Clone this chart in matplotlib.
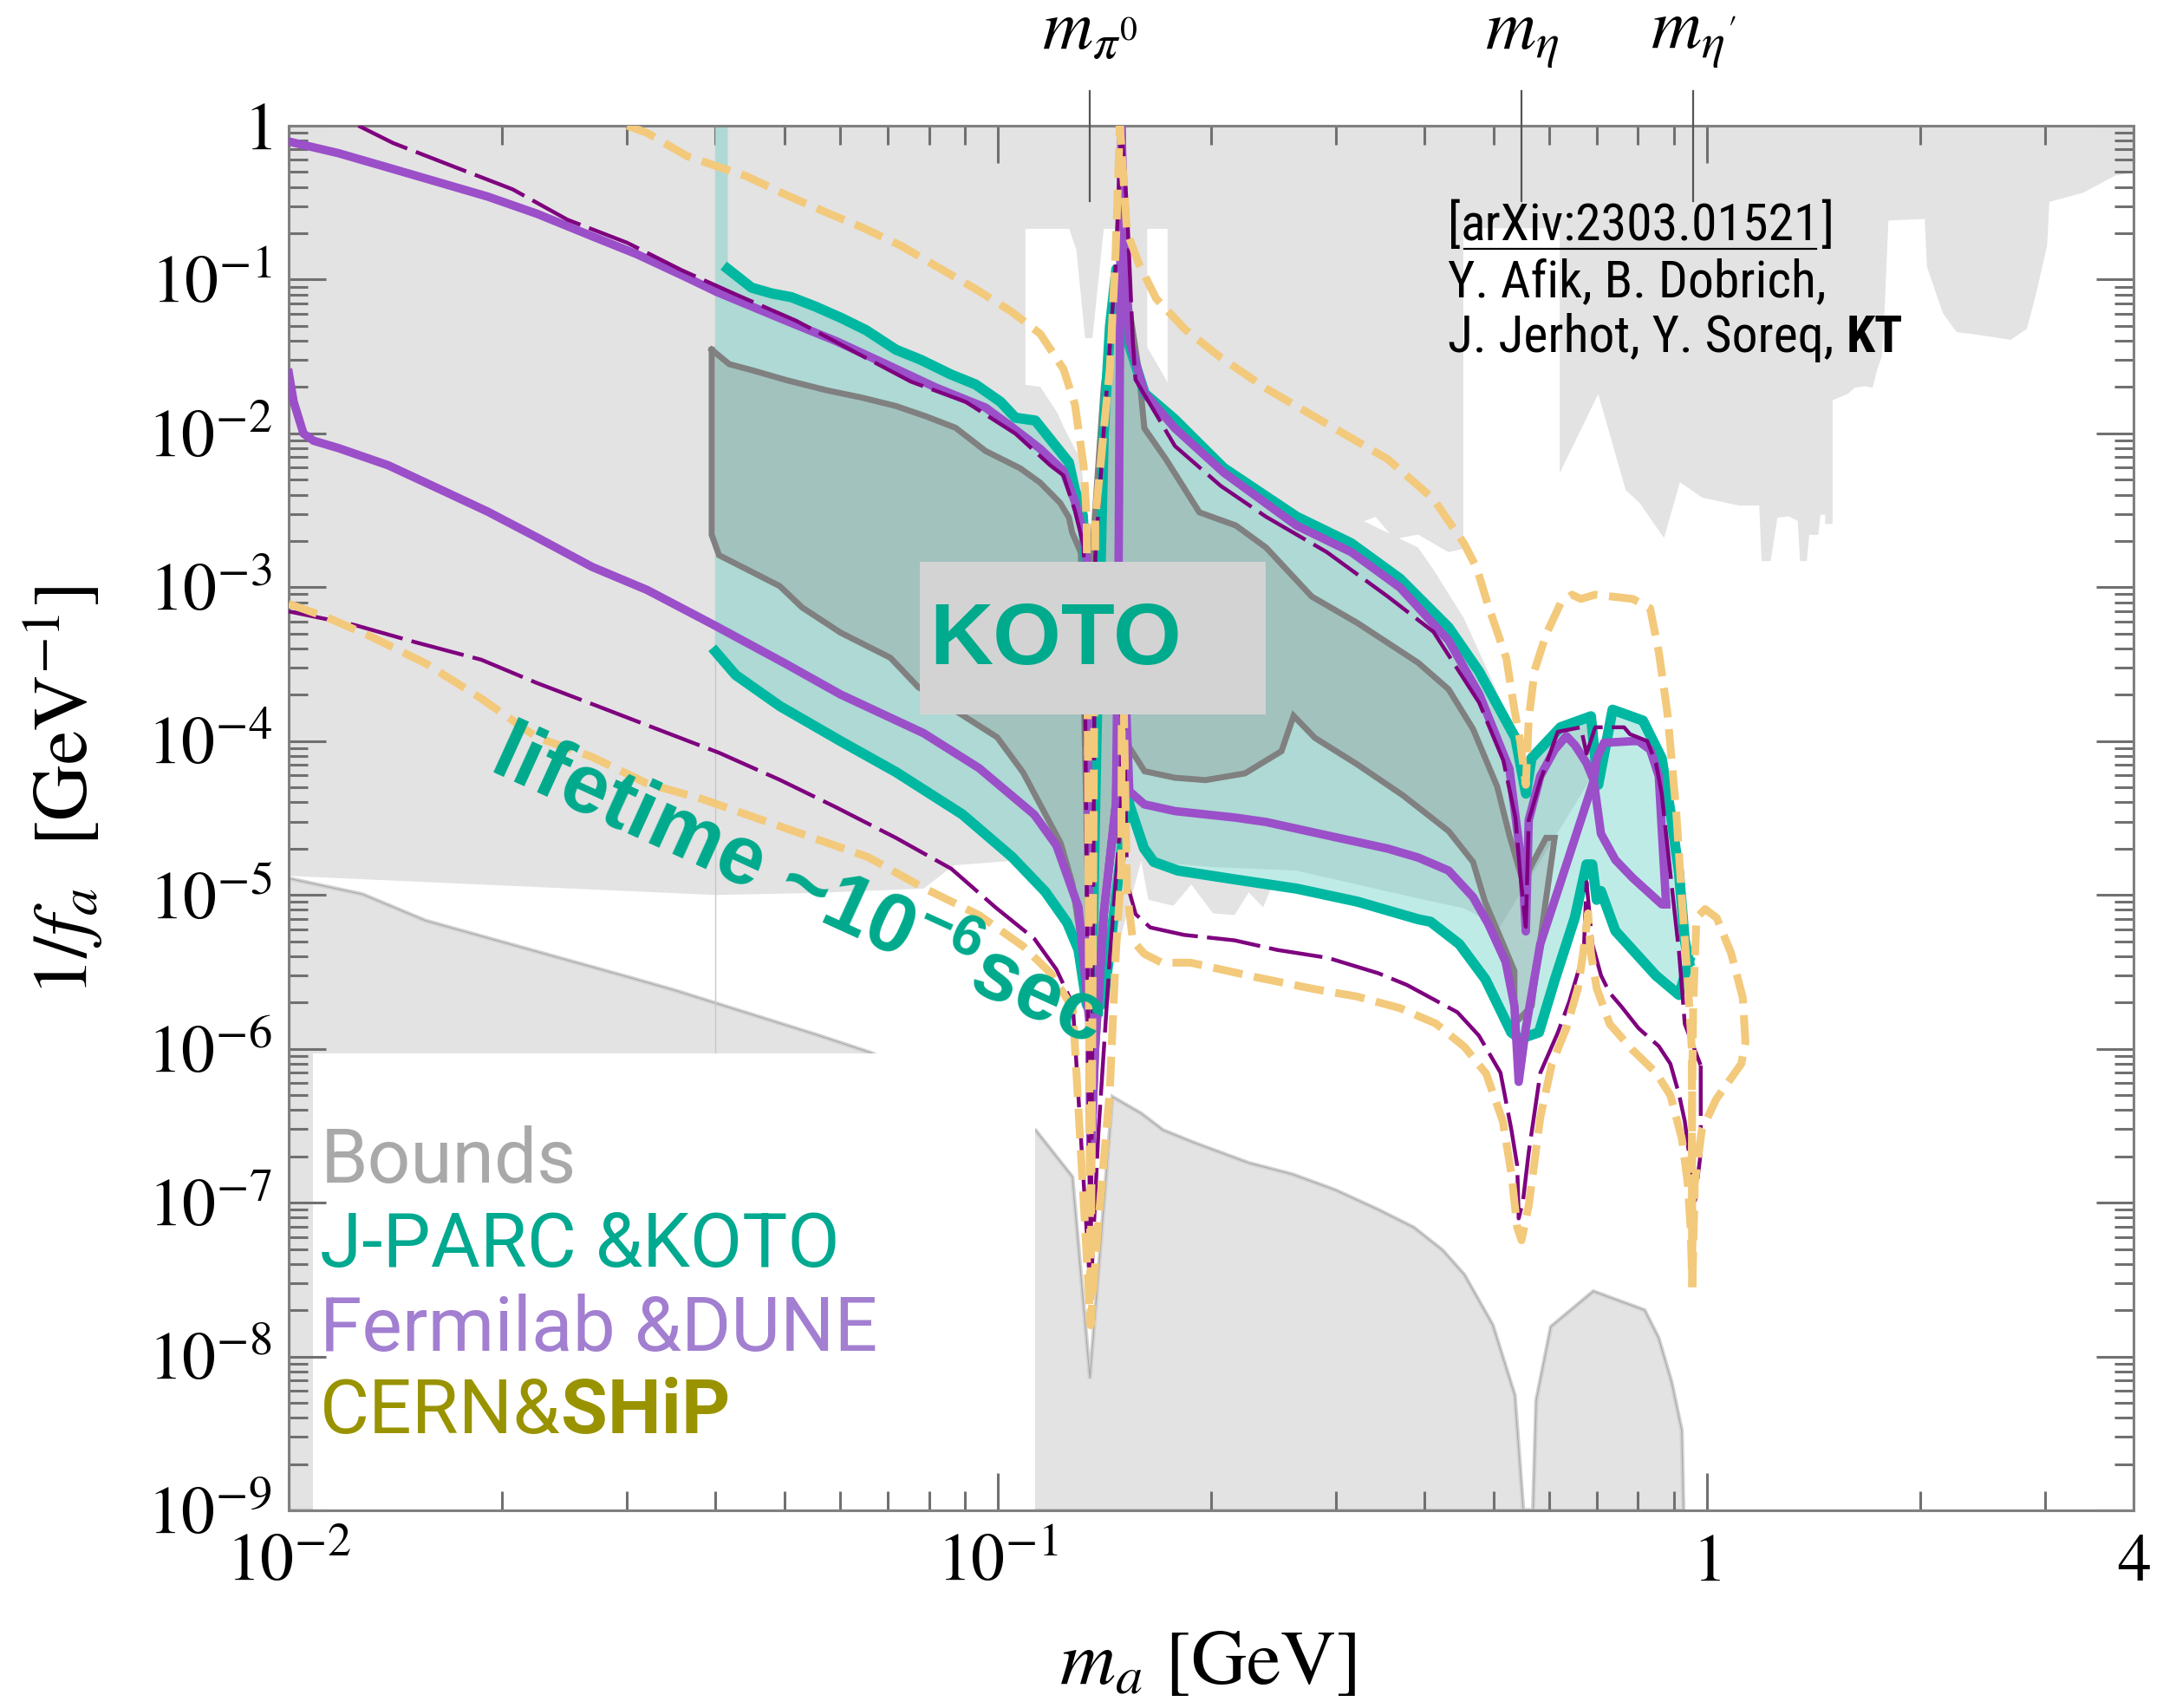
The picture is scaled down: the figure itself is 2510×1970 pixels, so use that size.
import matplotlib
matplotlib.use("Agg")
import matplotlib.pyplot as plt
from matplotlib.patches import Rectangle
from matplotlib.lines import Line2D
from matplotlib.ticker import NullFormatter

plt.rcParams["mathtext.fontset"] = "custom"
plt.rcParams["mathtext.rm"] = "STIXGeneral"
plt.rcParams["mathtext.it"] = "STIXGeneral:italic"
plt.rcParams["mathtext.bf"] = "Liberation Sans:bold"
plt.rcParams["mathtext.fallback"] = "stix"
plt.rcParams["font.family"] = ["STIXGeneral", "DejaVu Serif"]

# ---- existing bounds (m_a [GeV], 1/f_a [GeV^-1]) ----
bound_hi = [(0.01, 1), (4.0, 1), (4.0, 0.497), (3.768, 0.474), (3.398, 0.367), (3.043, 0.320),
            (3.021, 0.167), (2.912, 0.0796), (2.828, 0.0478), (2.685, 0.0406), (2.423, 0.0436),
            (2.251, 0.0456), (2.154, 0.0603), (2.045, 0.1207), (2.030, 0.2477), (1.804, 0.242),
            (1.778, 0.05), (1.765, 0.0315), (1.740, 0.0262), (1.714, 0.0198), (1.676, 0.0203),
            (1.616, 0.0198), (1.581, 0.01805), (1.505, 0.01646), (1.505, 0.00258), (1.469, 0.00258),
            (1.469, 0.00296), (1.447, 0.00296), (1.437, 0.00219), (1.395, 0.00219), (1.384, 0.00148),
            (1.354, 0.00148), (1.344, 0.0027), (1.305, 0.00289), (1.258, 0.00283), (1.231, 0.00148),
            (1.195, 0.00148), (1.186, 0.0034), (1.110, 0.0034), (0.9865, 0.00382), (0.9167, 0.00482),
            (0.8706, 0.00209), (0.803, 0.00356), (0.7686, 0.00428), (0.7031, 0.01805), (0.6204, 0.00553),
            (0.6204, 0.2157), (0.4536, 0.2157), (0.4536, 1.78e-3), (0.4325, 1.69e-3), (0.3917, 2.2e-3),
            (0.3622, 2.06e-3), (0.3412, 2.87e-3), (0.3284, 2.69e-3), (0.3917, 1.81e-3), (0.4118, 1.3e-3),
            (0.4544, 6.3e-4), (0.5014, 2.32e-4), (0.5205, 1.5e-4), (0.5404, 8.8e-5), (0.50, 5e-5),
            (0.40, 3e-5), (0.30, 2e-5), (0.2632, 1.48e-5), (0.2424, 1.08e-5), (0.2368, 8.3e-6),
            (0.226, 1.04e-5), (0.2158, 7.4e-6), (0.2012, 7.6e-6), (0.1875, 1.17e-5), (0.1769, 8.5e-6),
            (0.1631, 9.3e-6), (0.1593, 1.66e-5), (0.1352, 1e-6), (0.1285, 4.4e-6), (0.125, 7.5e-6),
            (0.1182, 1.77e-5), (0.1112, 2.32e-5), (0.1036, 1.66e-5), (0.0867, 1.56e-5), (0.0786, 1.1e-5),
            (0.055, 1.03e-5), (0.04, 1.0e-5), (0.01, 1.33e-5)]

# open windows in the upper bounds around the pi0 peak
gap_left = [(0.1094, 0.2136), (0.1261, 0.2136), (0.1291, 0.156), (0.1328, 0.0416), (0.136, 0.0416),
            (0.1399, 0.1465), (0.1411, 0.2136), (0.1466, 0.2136), (0.1466, 0.05), (0.1411, 0.0104),
            (0.1373, 0.00276), (0.1352, 2e-3), (0.1322, 0.00437), (0.131, 0.00695), (0.1285, 0.00794),
            (0.1238, 0.01106), (0.1215, 0.0135), (0.1148, 0.0201), (0.1094, 0.0207)]
gap_right = [(0.1625, 0.2136), (0.1736, 0.2136), (0.1736, 0.0215), (0.1625, 0.0364)]

bound_lo = [(0.01, 1e-9), (0.01, 1.28e-5), (0.0127, 1.01e-5), (0.0156, 6.8e-6), (0.0303, 2.9e-6),
            (0.035, 2.4e-6), (0.0559, 1.22e-6), (0.0663, 9.4e-7), (0.09, 5e-7), (0.113, 2.96e-7),
            (0.1274, 1.47e-7), (0.1349, 7.2e-9), (0.1452, 4.86e-7), (0.1593, 3.8e-7), (0.171, 2.96e-7),
            (0.1897, 2.44e-7), (0.226, 1.81e-7), (0.260, 1.53e-7), (0.299, 1.21e-7), (0.344, 9.0e-8),
            (0.386, 6.9e-8), (0.424, 4.9e-8), (0.455, 3.4e-8), (0.499, 1.6e-8), (0.536, 5.6e-9),
            (0.551, 1e-9), (0.569, 1e-9), (0.575, 5.2e-9), (0.603, 1.56e-8), (0.692, 2.65e-8),
            (0.817, 2.0e-8), (0.855, 1.32e-8), (0.892, 6.8e-9), (0.922, 3.3e-9), (0.927, 1e-9)]

koto_edge_m = 0.0399

# ---- J-PARC / KOTO reach ----
koto_upper = [(0.0400, 1.0), (0.0416, 1.0), (0.0416, 0.1174), (0.04496, 0.0886), (0.04797, 0.0813),
              (0.05117, 0.0768), (0.05547, 0.0664), (0.06015, 0.0563), (0.0652, 0.0469), (0.07186, 0.0350),
              (0.07789, 0.0301), (0.08584, 0.0242), (0.09306, 0.0208), (0.1009, 0.01606), (0.1059, 0.01265),
              (0.1130, 0.01212), (0.1260, 0.00647), (0.1285, 0.0043), (0.1318, 0.00295), (0.1338, 1e-3),
              (0.1355, 1.7e-6), (0.1378, 1e-4), (0.1411, 0.01), (0.1440, 0.05), (0.1470, 0.117),
              (0.1503, 0.0496), (0.1612, 0.01818), (0.1777, 0.01235), (0.2083, 0.00596), (0.2638, 0.00288),
              (0.3153, 0.00193), (0.3692, 0.001138), (0.4324, 5.49e-4), (0.4773, 2.84e-4), (0.5372, 1.05e-4),
              (0.556, 4.56e-5), (0.566, 7.74e-5), (0.622, 1.23e-4), (0.6866, 1.45e-4), (0.693, 9.45e-5),
              (0.703, 5.2e-5), (0.7366, 1.6e-4), (0.8128, 1.36e-4), (0.8639, 7.74e-5), (0.8886, 3.5e-5),
              (0.914, 1.39e-5), (0.931, 5.1e-6), (0.944, 3.7e-6)]
koto_lower = [(0.0400, 3.81e-4), (0.04269, 2.69e-4), (0.04928, 1.69e-4), (0.06003, 1.0e-4), (0.07183, 6.3e-5),
              (0.08915, 3.34e-5), (0.1047, 1.77e-5), (0.1167, 1.05e-5), (0.1253, 6.6e-6), (0.1300, 4.4e-6),
              (0.1335, 1.95e-6), (0.1355, 1.7e-6), (0.141, 2.0e-6), (0.1509, 2.83e-5), (0.1522, 5.1e-5),
              (0.1533, 3.88e-5), (0.1608, 2.01e-5), (0.166, 1.64e-5), (0.1796, 1.44e-5), (0.2166, 1.26e-5),
              (0.2638, 1.1e-5), (0.3216, 9.05e-6), (0.3918, 6.95e-6), (0.4077, 6.7e-6), (0.4477, 4.8e-6),
              (0.4874, 2.83e-6), (0.530, 1.28e-6), (0.5454, 1.16e-6), (0.5799, 1.28e-6), (0.6108, 2.83e-6),
              (0.6517, 7.14e-6), (0.6768, 1.58e-5), (0.6895, 1.58e-5), (0.6996, 9.3e-6), (0.7093, 1.06e-5),
              (0.7432, 5.85e-6), (0.8476, 3.0e-6), (0.914, 2.24e-6), (0.944, 3.7e-6)]
koto_dense_edge = [(0.2, 1.52e-5), (0.2638, 1.44e-5), (0.3917, 9.5e-6), (0.4544, 8.2e-6),
                   (0.5109, 6.2e-6), (0.6897, 5.93e-5)]

# current KOTO region (grey outline)
koto_now = [(0.0395, 0.0350), (0.04181, 0.0282), (0.04496, 0.0258), (0.05034, 0.0222), (0.05729, 0.0191),
            (0.06414, 0.01714), (0.07186, 0.01506), (0.0791, 0.01294), (0.0872, 0.01088), (0.0961, 0.00769),
            (0.1076, 0.00593), (0.1148, 0.00478), (0.1225, 0.00353), (0.1260, 0.00284), (0.1274, 0.002256),
            (0.1310, 0.001676), (0.1352, 1.6e-6), (0.1360, 1.73e-3), (0.1411, 0.0201), (0.1466, 0.0755),
            (0.1494, 0.1123), (0.1522, 0.0806), (0.1580, 0.02617), (0.1610, 0.0108), (0.1727, 0.00679),
            (0.1925, 0.00307), (0.2167, 0.00252), (0.2391, 0.00181), (0.2773, 8.7e-4), (0.3216, 5.86e-4),
            (0.3918, 3.23e-4), (0.4325, 2.17e-4), (0.4681, 1.2e-4), (0.5064, 5.06e-5), (0.5269, 2.44e-5),
            (0.5507, 1.21e-5), (0.5664, 1.57e-5), (0.5934, 2.35e-5), (0.6103, 2.35e-5), (0.5824, 5.1e-6),
            (0.5664, 1.9e-6), (0.5355, 1.45e-6), (0.5355, 3.2e-6), (0.5115, 5.3e-6), (0.4869, 9.0e-6),
            (0.4681, 1.64e-5), (0.4325, 2.6e-5), (0.3731, 4.43e-5), (0.3216, 7.05e-5), (0.2801, 1.05e-4),
            (0.2614, 1.46e-4), (0.2513, 8.6e-5), (0.2232, 6.17e-5), (0.1963, 5.58e-5), (0.1778, 5.78e-5),
            (0.1611, 6.37e-5), (0.1518, 9.8e-5), (0.1494, 5.47e-5), (0.1439, 1.46e-5), (0.1399, 5.4e-6),
            (0.1352, 1.6e-6), (0.1335, 2.13e-6), (0.1310, 5.0e-6), (0.1274, 1.19e-5), (0.1227, 2.17e-5),
            (0.1086, 6.25e-5), (0.0998, 1.06e-4), (0.0772, 2.25e-4), (0.07058, 3.48e-4), (0.06003, 5.07e-4),
            (0.05296, 7.4e-4), (0.04928, 1.017e-3), (0.04045, 1.616e-3), (0.0395, 2.19e-3), (0.0395, 0.0350)]

# ---- Fermilab / DUNE ----
dune_upper = [(0.01, 0.789), (0.01175, 0.663), (0.01382, 0.534), (0.01624, 0.430), (0.01909, 0.346),
              (0.02243, 0.267), (0.02637, 0.197), (0.03099, 0.146), (0.03643, 0.1031), (0.04015, 0.0831),
              (0.05034, 0.0539), (0.05917, 0.0398), (0.06955, 0.0282), (0.08175, 0.0199), (0.0961, 0.01472),
              (0.1046, 0.01106), (0.1148, 0.00794), (0.1238, 0.0057), (0.1285, 0.00359), (0.1316, 0.00241),
              (0.1335, 0.00152), (0.1352, 1.8e-7), (0.1372, 1.0e-6), (0.1411, 7.5e-6), (0.1468, 3.9e-5),
              (0.1480, 1e-3), (0.1494, 1.0), (0.1510, 0.2), (0.1533, 0.0406), (0.1610, 0.01835),
              (0.1778, 0.0108), (0.2083, 0.00557), (0.2638, 0.00252), (0.3154, 0.00169), (0.3694, 9.95e-4),
              (0.4325, 4.5e-4), (0.4775, 2.03e-4), (0.5269, 6.6e-5), (0.5503, 1.38e-5), (0.5557, 5.8e-6),
              (0.561, 3.06e-5), (0.5824, 5.93e-5), (0.6103, 8.8e-5), (0.6339, 1.08e-4), (0.6521, 9.4e-5),
              (0.6769, 7.2e-5), (0.6929, 5.55e-5), (0.6996, 3.98e-5), (0.7093, 2.5e-5), (0.7433, 1.69e-5),
              (0.7864, 1.29e-5), (0.8641, 8.7e-6), (0.8764, 8.7e-6)]
dune_lower = [(0.01, 0.0247), (0.01016, 0.01606), (0.01049, 0.00998), (0.01084, 0.00896), (0.01175, 0.00803),
              (0.01382, 0.0062), (0.01624, 0.00439), (0.01909, 0.0031), (0.02243, 0.0021), (0.02677, 0.001358),
              (0.03203, 9.6e-4), (0.03974, 5.7e-4), (0.05018, 3.19e-4), (0.06003, 2.01e-4), (0.07863, 1.125e-4),
              (0.0941, 6.68e-5), (0.1126, 3.33e-5), (0.1210, 2.1e-5), (0.1300, 8.3e-6), (0.1347, 1.47e-6),
              (0.1352, 1.8e-7), (0.1372, 1.03e-6), (0.1411, 7.5e-6), (0.1468, 3.93e-5), (0.1490, 5e-4),
              (0.1515, 2e-4), (0.1533, 4.73e-5), (0.1610, 3.88e-5), (0.1778, 3.51e-5), (0.2167, 3.18e-5),
              (0.2391, 2.98e-5), (0.2914, 2.44e-5), (0.3550, 2.0e-5), (0.3918, 1.75e-5), (0.4325, 1.44e-5),
              (0.4681, 9.7e-6), (0.4918, 6.5e-6), (0.5205, 3.67e-6), (0.5355, 1.9e-6), (0.5430, 6.1e-7),
              (0.5557, 1.36e-6), (0.5824, 4.8e-6), (0.6163, 1.06e-5), (0.6521, 2.35e-5), (0.6769, 3.98e-5),
              (0.6929, 5.55e-5), (0.6996, 7.7e-5), (0.7161, 9.75e-5), (0.7864, 1.0e-4), (0.8015, 1.0e-4),
              (0.8321, 8.8e-5), (0.8558, 5.93e-5), (0.8641, 2.68e-5), (0.8764, 8.7e-6)]

# ---- Fermilab (thin dashed) ----
fnal_upper = [(0.01254, 1.0), (0.01404, 0.771), (0.01704, 0.545), (0.02069, 0.386), (0.02472, 0.245),
              (0.03002, 0.1734), (0.03585, 0.1149), (0.04282, 0.0796), (0.05199, 0.0539), (0.06312, 0.0335),
              (0.07544, 0.0217), (0.09008, 0.01606), (0.1059, 0.00997), (0.1186, 0.0062), (0.1238, 0.00533),
              (0.1285, 0.00314), (0.1322, 0.00185), (0.1352, 2.5e-8), (0.1373, 1.6e-3), (0.1411, 0.01037),
              (0.1466, 0.12), (0.1494, 1.0), (0.1522, 0.284), (0.1551, 0.039), (0.1564, 0.0224),
              (0.1778, 0.00828), (0.2062, 0.00457), (0.2391, 0.00287), (0.2913, 0.00169), (0.3550, 8.7e-4),
              (0.4118, 5.13e-4), (0.4775, 1.78e-4), (0.5165, 7.5e-5), (0.5373, 3.18e-5), (0.5456, 1.38e-5),
              (0.5557, 6.2e-6), (0.5610, 3.06e-5), (0.5826, 5.55e-5), (0.6164, 1.15e-4), (0.6643, 1.23e-4),
              (0.6769, 8.3e-5), (0.6962, 1.23e-4), (0.7646, 1.23e-4), (0.7792, 1.11e-4), (0.8245, 1.0e-4),
              (0.8479, 7.2e-5), (0.8641, 4.55e-5), (0.8886, 1.38e-5), (0.9142, 4.2e-6), (0.9313, 1.45e-6),
              (0.9807, 7.8e-7)]
fnal_lower = [(0.01, 6.97e-4), (0.01236, 5.7e-4), (0.01507, 4.4e-4), (0.01869, 3.38e-4), (0.02237, 2.39e-4),
              (0.02725, 1.69e-4), (0.0332, 1.19e-4), (0.04045, 8.4e-5), (0.04928, 5.6e-5), (0.05898, 3.74e-5),
              (0.07186, 2.35e-5), (0.08601, 1.48e-5), (0.0993, 8.3e-6), (0.1126, 5.2e-6), (0.1210, 3.28e-6),
              (0.1276, 1.95e-6), (0.1352, 2.5e-8), (0.1386, 2.75e-7), (0.1439, 3.88e-6), (0.148, 2.04e-5),
              (0.1494, 4.2e-5), (0.1497, 8e-4), (0.1522, 1.19e-5), (0.1565, 7.5e-6), (0.1641, 6.15e-6),
              (0.1832, 5.5e-6), (0.2158, 5.07e-6), (0.2481, 4.39e-6), (0.2923, 3.9e-6), (0.3442, 3.1e-6),
              (0.3778, 2.6e-6), (0.4148, 2.06e-6), (0.4449, 1.73e-6), (0.4771, 1.22e-6), (0.5118, 7.0e-7),
              (0.5304, 2.96e-7), (0.5404, 1.74e-7), (0.5430, 7.9e-8), (0.5507, 1.03e-7), (0.5610, 2.13e-7),
              (0.5826, 7.0e-7), (0.6164, 1.27e-6), (0.6400, 2.03e-6), (0.6707, 4.2e-6), (0.6769, 1.21e-5),
              (0.6832, 7.6e-6), (0.6897, 4.8e-6), (0.7094, 3.0e-6), (0.7296, 2.31e-6), (0.7575, 1.89e-6),
              (0.8015, 1.36e-6), (0.8559, 1.04e-6), (0.8886, 8.0e-7), (0.9142, 5.04e-7), (0.9313, 3.38e-7),
              (0.9490, 1.74e-7), (0.9625, 1.03e-7), (0.9809, 2.13e-7), (0.9807, 7.8e-7)]

# ---- CERN / SHiP (thick dashed) ----
ship_upper = [(0.03002, 1.0), (0.03202, 0.898), (0.03643, 0.635), (0.04015, 0.545), (0.04424, 0.469),
              (0.05034, 0.354), (0.05729, 0.273), (0.06414, 0.22), (0.07303, 0.166), (0.08175, 0.1226),
              (0.09306, 0.0868), (0.1046, 0.0618), (0.1148, 0.0444), (0.1238, 0.0262), (0.1285, 0.0154),
              (0.1322, 0.0061), (0.1335, 0.00275), (0.1352, 1.6e-8), (0.1373, 2.76e-3), (0.1411, 0.0104),
              (0.1439, 0.0262), (0.1466, 0.1465), (0.1487, 1.0), (0.1522, 0.204), (0.158, 0.128),
              (0.1672, 0.0755), (0.1837, 0.0475), (0.2062, 0.0312), (0.2391, 0.0196), (0.2913, 0.01153),
              (0.3550, 0.00679), (0.4118, 0.00374), (0.4545, 0.00193), (0.474, 1.33e-3), (0.4918, 7.6e-4),
              (0.5217, 3.45e-4), (0.5355, 1.6e-4), (0.5456, 1.0e-4), (0.5557, 5.2e-5), (0.561, 1.4e-4),
              (0.5719, 2.9e-4), (0.5935, 4.93e-4), (0.6220, 7.85e-4), (0.6457, 8.95e-4), (0.6643, 8.4e-4),
              (0.6962, 8.95e-4), (0.7864, 8.4e-4), (0.8321, 7.3e-4), (0.8559, 3.79e-4), (0.8805, 1.5e-4),
              (0.9057, 3.49e-5), (0.9226, 9.3e-6), (0.9401, 2.82e-6), (0.9529, 9.8e-7), (0.9544, 2.83e-8)]
ship_lower = [(0.01, 7.8e-4), (0.01130, 6.4e-4), (0.01305, 4.79e-4), (0.01562, 3.19e-4), (0.01869, 1.89e-4),
              (0.02237, 1.06e-4), (0.02677, 7.9e-5), (0.03203, 5.3e-5), (0.03832, 4.2e-5), (0.04586, 3.14e-5),
              (0.05490, 2.35e-5), (0.06569, 1.76e-5), (0.07863, 1.11e-5), (0.0941, 7.4e-6), (0.1086, 4.64e-6),
              (0.1188, 3.1e-6), (0.1276, 1.84e-6), (0.1352, 1.6e-8), (0.1386, 7.3e-8), (0.1439, 5.3e-7),
              (0.1466, 3.87e-6), (0.1494, 1.46e-5), (0.1497, 8e-4), (0.1522, 1.04e-5), (0.1551, 5.04e-6),
              (0.161, 4.14e-6), (0.1703, 3.63e-6), (0.1871, 3.63e-6), (0.2315, 2.92e-6), (0.2789, 2.45e-6),
              (0.3208, 2.19e-6), (0.3692, 1.84e-6), (0.4148, 1.46e-6), (0.4553, 1.03e-6), (0.4885, 6.9e-7),
              (0.5157, 3.38e-7), (0.5304, 1.53e-7), (0.5404, 6.9e-8), (0.5480, 5.7e-8), (0.561, 9.6e-8),
              (0.5826, 3.6e-7), (0.6048, 8.0e-7), (0.6339, 1.36e-6), (0.6581, 2.47e-6), (0.6707, 4.48e-6),
              (0.6802, 7.6e-6), (0.6866, 4.2e-6), (0.6996, 2.47e-6), (0.7297, 1.45e-6), (0.7865, 9.8e-7),
              (0.8480, 7.0e-7), (0.8886, 5.0e-7), (0.9226, 2.6e-7), (0.9401, 1.34e-7), (0.9490, 6.9e-8),
              (0.9544, 2.83e-8)]
ship_loop = [(0.9544, 2.83e-8), (0.9529, 3.6e-7), (0.957, 1.9e-6), (0.9672, 7.1e-6), (0.9948, 8.1e-6),
             (1.033, 7.1e-6), (1.082, 4.2e-6), (1.124, 2.16e-6), (1.134, 1.11e-6), (1.119, 8.0e-7),
             (1.031, 4.7e-7), (0.984, 2.96e-7), (0.962, 1.34e-7), (0.9544, 2.83e-8)]

meson_names = [r"$m_{\pi^0}$", r"$m_\eta$", r"$m_{\eta'}$"]
meson_masses = [0.135, 0.548, 0.958]

x_major = [0.01, 0.1, 1, 4]
x_labels = [r"$10^{-2}$", r"$10^{-1}$", r"$1$", r"$4$"]
y_exponents = list(range(-9, 1))

TEAL = "#00b8a2"
PURPLE = "#9b4fc9"
DARKPURPLE = "#7f007f"
YELLOW = "#f3c97b"
GRAY = "#e3e3e3"


def xy(pts):
    return list(zip(*pts))


fig = plt.figure(figsize=(25.1, 19.7), dpi=100)
ax = fig.add_axes([0.1327, 0.1157, 0.8478, 0.8107])
ax.set_xscale("log")
ax.set_yscale("log")
ax.set_xlim(0.01, 4)
ax.set_ylim(1e-9, 1)

# bounds
ax.fill(*xy(bound_hi), color=GRAY, lw=0, zorder=1)
ax.fill(*xy(gap_left), color="white", lw=0, zorder=1.1)
ax.fill(*xy(gap_right), color="white", lw=0, zorder=1.1)
ax.fill(*xy(bound_lo), facecolor=GRAY, edgecolor="#d2d2d2", lw=3.5, zorder=1)
ax.plot(*xy(bound_lo), color="#a8a8a8", lw=0.8, zorder=1.05)
ax.plot([koto_edge_m, koto_edge_m], [1, 9.3e-7], color="#c8c8c8", lw=1.0, zorder=1.3)

# legend panel
ax.add_patch(Rectangle((0.0132, 0), 0.3914, 0.33, transform=ax.transAxes,
                       facecolor="white", edgecolor="none", zorder=1.4))

# KOTO reach
ax.fill(*xy(koto_upper + koto_lower[::-1]), color="#bfebe7", lw=0, zorder=2)
dense_up = [p for p in koto_upper if p[0] <= 0.687]
dense_lo = [p for p in koto_lower if p[0] <= 0.166] + koto_dense_edge
ax.fill(*xy(dense_up + dense_lo[::-1]), color="#aed9d4", lw=0, zorder=2.1)
ax.fill(*xy(koto_now), facecolor="#808080", alpha=0.25, lw=0, zorder=2.2)
ax.plot(*xy(koto_now), color="#808080", lw=5.0, zorder=3, solid_joinstyle="miter")
ax.plot(*xy(koto_upper[2:]), color=TEAL, lw=8.5, zorder=3.2)
ax.plot(*xy(koto_lower), color=TEAL, lw=8.5, zorder=3.2)

# DUNE
ax.plot(*xy(dune_upper), color=PURPLE, lw=7.0, zorder=3.4)
ax.plot(*xy(dune_lower), color=PURPLE, lw=7.0, zorder=3.4)

# Fermilab
ax.plot(*xy(fnal_upper), color=DARKPURPLE, lw=3.2, ls=(0, (14, 2.4)), zorder=3.6)
ax.plot(*xy(fnal_lower), color=DARKPURPLE, lw=3.2, ls=(0, (14, 2.4)), zorder=3.6)

# SHiP
for curve in (ship_upper, ship_lower, ship_loop):
    ax.plot(*xy(curve), color=YELLOW, lw=6.5, ls=(0, (3.8, 1.5)), zorder=3.8)

# axes styling
ax.set_xticks(x_major)
ax.set_xticklabels(x_labels)
x_minor = [k * 10.0 ** e for e in (-2, -1) for k in range(2, 10)] + [2, 3]
ax.set_xticks(x_minor, minor=True)
ax.xaxis.set_minor_formatter(NullFormatter())
ax.set_yticks([10.0 ** e for e in y_exponents])
ax.set_yticklabels([r"$10^{%d}$" % e if e else r"$1$" for e in y_exponents])
ax.set_yticks([k * 10.0 ** e for e in range(-9, 0) for k in range(2, 10)], minor=True)
ax.yaxis.set_minor_formatter(NullFormatter())
ax.tick_params(which="both", direction="in", top=True, right=True, color="#707070", width=2.2,
               labelsize=56)
ax.tick_params(which="major", length=31)
ax.tick_params(axis="x", which="major", pad=20)
ax.tick_params(axis="y", which="major", pad=14)
ax.tick_params(which="minor", length=16)
for s in ax.spines.values():
    s.set_color("#808080")
    s.set_linewidth(2.2)

fig.text(0.555, 0.025, r"$m_a$ [GeV]", fontsize=64, ha="center", va="center")
fig.text(0.029, 0.537, r"$1/f_a$  [GeV$^{-1}$]", fontsize=64, ha="center", va="center", rotation=90)

# meson mass markers
mark_tr = ax.get_xaxis_transform()
for name, m in zip(meson_names, meson_masses):
    ax.plot([m, m], [0.9455, 1.025], transform=mark_tr, color="#555555", lw=1.6, clip_on=False, zorder=7)
    ax.text(m, 1.0557, name, transform=mark_tr, fontsize=58, ha="center", va="baseline")

# KOTO tag
ax.add_patch(Rectangle((0.3421, 0.5748), 0.1875, 0.1102, transform=ax.transAxes,
                       facecolor="#d3d3d3", edgecolor="none", zorder=5))
ax.text(0.4159, 0.6274, "KOTO", transform=ax.transAxes, fontsize=73, fontweight="bold",
        family="Liberation Sans", color="#00aa8c", ha="center", va="center", zorder=6)
ax.text(0.2758, 0.4496, r"lifetime ~10$^{\mathbf{-6}}$sec", transform=ax.transAxes, fontsize=69,
        fontweight="bold", family="Liberation Sans", color="#00aa8c", rotation=-24.5,
        rotation_mode="anchor", ha="center", va="center", zorder=6)

renderer = fig.canvas.get_renderer()


def run_of_text(x, y, pieces, **common):
    # lay text pieces next to each other along one baseline (axes coords)
    out = []
    for s, kw in pieces:
        opts = dict(common)
        opts.update(kw)
        t = ax.text(x, y, s, transform=ax.transAxes, ha="left", va="baseline", zorder=6, **opts)
        bb = t.get_window_extent(renderer=renderer)
        x = ax.transAxes.inverted().transform((bb.x1, bb.y0))[0]
        out.append(t)
    return out


cred = dict(fontsize=43, family=["Roboto Condensed", "Liberation Sans"], color="black")
parts = run_of_text(0.6283, 0.917, [("[", {}), ("arXiv:2303.01521", {}), ("]", {})], **cred)
ub = parts[1].get_window_extent(renderer=renderer)
(u0, uy), (u1, _) = ax.transAxes.inverted().transform([(ub.x0, ub.y0), (ub.x1, ub.y0)])
ax.add_line(Line2D([u0 + 0.002, u1 - 0.002], [0.917 - 0.006] * 2, transform=ax.transAxes,
                   color="black", lw=1.6, clip_on=False, zorder=6))
run_of_text(0.6283, 0.8768, [("Y. Afik, B. Dobrich,", {})], **cred)
run_of_text(0.6283, 0.8366, [("J. Jerhot, Y. Soreq, ", {}), ("KT", {"fontweight": "bold"})], **cred)

leg = dict(fontsize=63, family=["Roboto", "Liberation Sans"])
run_of_text(0.017, 0.2367, [("Bounds", {"color": "#a9a9a9"})], **leg)
run_of_text(0.017, 0.176, [("J-PARC &KOTO", {"color": "#00a98f"})], **leg)
run_of_text(0.017, 0.1152, [("Fermilab &DUNE", {"color": "#a27fd0"})], **leg)
run_of_text(0.017, 0.056, [("CERN&", {"color": "#999300"}),
                           ("SHiP", {"color": "#999300", "fontweight": "bold"})], **leg)

fig.savefig("out.png", dpi=100)
